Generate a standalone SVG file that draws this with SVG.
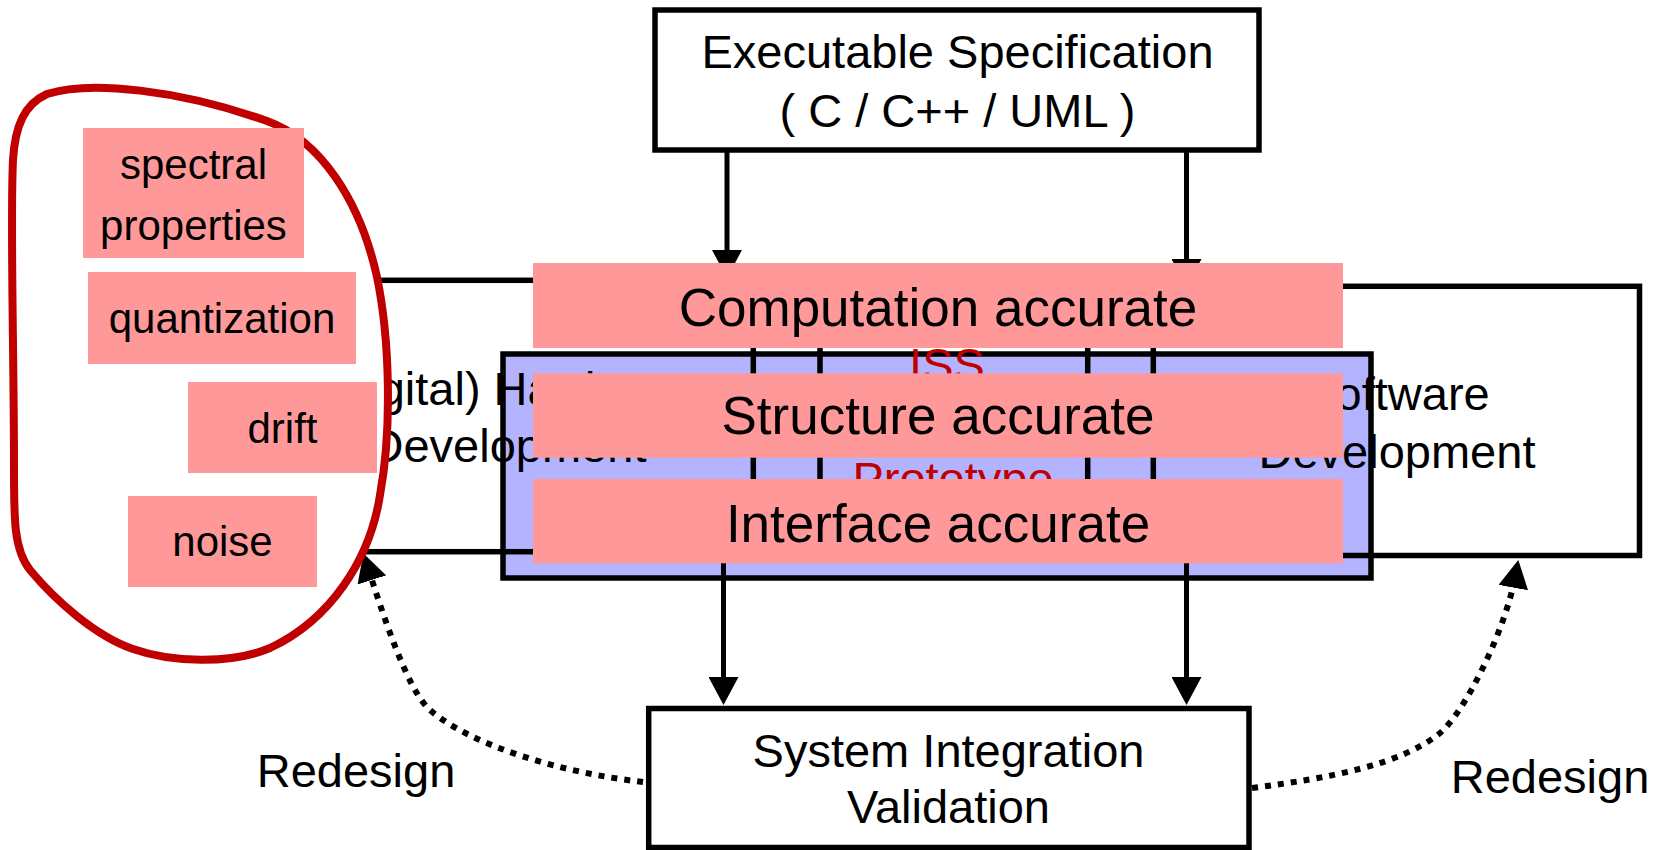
<svg xmlns="http://www.w3.org/2000/svg" width="1658" height="850" viewBox="0 0 1658 850">
<defs>
<marker id="ah" viewBox="0 0 28 30" markerWidth="28" markerHeight="30" markerUnits="userSpaceOnUse" refX="14" refY="15" orient="auto"><path d="M0,0 L28,15 L0,30 Z" fill="#000"/></marker>
<style>
text{font-family:"Liberation Sans",Arial,sans-serif;fill:#000}
.box{fill:#fff;stroke:#000;stroke-width:5.5}
.open{fill:none;stroke:#000;stroke-width:5.5}
.div{stroke:#000;stroke-width:5.5}
.pink{fill:#FF9999}
.t47{font-size:47px;text-anchor:middle}
.t53{font-size:53px;text-anchor:middle}
.t42{font-size:42px;text-anchor:middle}
.lbl{font-size:47px}
.red{fill:#C00000}
.conn{fill:none;stroke:#000;stroke-width:5}
.dot{fill:none;stroke:#000;stroke-width:6;stroke-dasharray:6 7}
</style>
</defs>
<rect width="1658" height="850" fill="#fff"/>

<g id="iss-prototype">
<rect x="503" y="354" width="868" height="224" fill="#B3B3FF" stroke="#000" stroke-width="5.5"/>
<line class="div" x1="753.3" y1="290" x2="753.3" y2="550"/>
<line class="div" x1="1087.7" y1="290" x2="1087.7" y2="550"/>
<text class="t47 red" x="947" y="381">ISS</text>
<text class="t47 red" x="953" y="495">Prototype</text>
</g>

<g id="hardware">
<rect class="open" x="194" y="280.3" width="626" height="271.4"/>
<text class="t47" x="508" y="405">(Digital) Hardware</text>
<text class="t47" x="508" y="461.7">Development</text>
</g>

<g id="software">
<rect class="open" x="1153.3" y="286.3" width="486.2" height="269.2"/>
<text class="t47" x="1397" y="410">Software</text>
<text class="t47" x="1397" y="468">Development</text>
</g>

<g id="connectors">
<line class="conn" x1="727" y1="152" x2="727" y2="264" marker-end="url(#ah)"/>
<line class="conn" x1="1186.5" y1="152" x2="1186.5" y2="273" marker-end="url(#ah)"/>
<line class="conn" x1="723.5" y1="552" x2="723.5" y2="691" marker-end="url(#ah)"/>
<line class="conn" x1="1186.5" y1="555" x2="1186.5" y2="691" marker-end="url(#ah)"/>
<path class="dot" d="M643,782 C563,773 471.5,746 430,710 C407.4,690.4 382.9,614.3 367.6,566.6" marker-end="url(#ah)"/>
<path class="dot" d="M1252,788 C1332,777.6 1401.2,764.5 1440,733 C1463.3,714.1 1505.1,632.8 1515.8,573.8" marker-end="url(#ah)"/>
<text class="lbl" x="256.7" y="786.7">Redesign</text>
<text class="lbl" x="1450.7" y="793.3">Redesign</text>
</g>

<g id="spec">
<rect class="box" x="655" y="10" width="604" height="140"/>
<text class="t47" x="957.5" y="68.3">Executable Specification</text>
<text class="t47" x="957.5" y="126.7">( C / C++ / UML )</text>
</g>

<g id="system-integration">
<rect class="box" x="648.7" y="708.5" width="600.3" height="139"/>
<text class="t47" x="948.5" y="766.7">System Integration</text>
<text class="t47" x="948.5" y="823">Validation</text>
</g>

<g id="analog-effects">
<path d="M47,94 C90,80 180,90 267,121 C320,140 360,200 377,277 C390,340 392,430 380,495 C370,560 330,620 270,648 C230,665 170,662 133,649 C95,636 55,600 30,570 C14,550 14,520 14,470 C14,350 10,220 13,160 C15,125 25,104 47,94 Z" fill="#fff" stroke="#C00000" stroke-width="8"/>
</g>

<g id="spectral">
<rect class="pink" x="83" y="128" width="221" height="130"/>
<text class="t42" x="193.5" y="178.6">spectral</text>
<text class="t42" x="193.5" y="240">properties</text>
</g>
<g id="quantization">
<rect class="pink" x="88" y="272" width="268" height="92"/>
<text class="t42" x="222" y="332.7">quantization</text>
</g>
<g id="drift">
<rect class="pink" x="188" y="382" width="189" height="91"/>
<text class="t42" x="282.5" y="442.5">drift</text>
</g>
<g id="noise">
<rect class="pink" x="128" y="496" width="189" height="91"/>
<text class="t42" x="222.5" y="556">noise</text>
</g>

<g id="computation-accurate">
<rect class="pink" x="533" y="263" width="810" height="85"/>
<text class="t53" x="938" y="326">Computation accurate</text>
</g>
<g id="structure-accurate">
<rect class="pink" x="533" y="373.3" width="810" height="84.4"/>
<text class="t53" x="938" y="434.3">Structure accurate</text>
</g>
<g id="interface-accurate">
<rect class="pink" x="533" y="479" width="810" height="84.3"/>
<text class="t53" x="938" y="541.7">Interface accurate</text>
</g>
</svg>
